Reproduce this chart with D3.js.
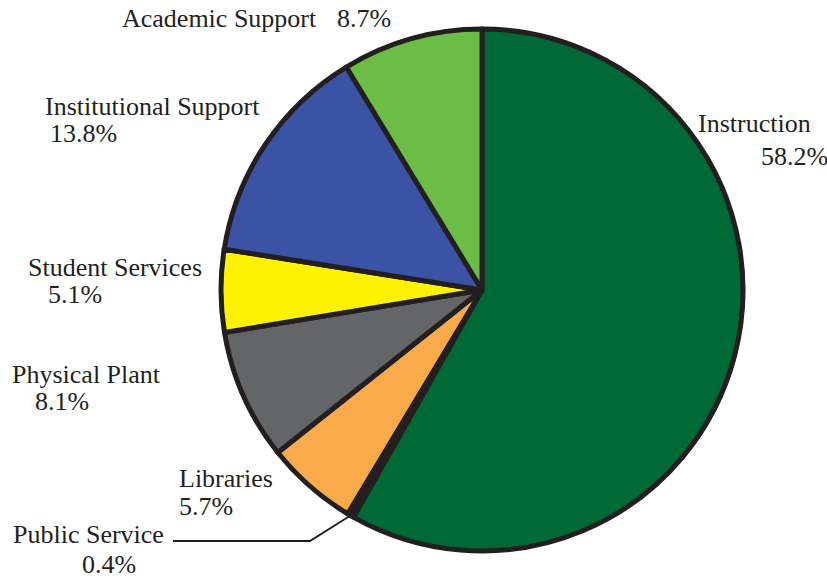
<!DOCTYPE html>
<html>
<head>
<meta charset="utf-8">
<script src="https://cdn.jsdelivr.net/npm/d3@7"></script>
<style>
  html, body { margin: 0; padding: 0; background: #ffffff; }
  svg { display: block; }
  text { font-family: "Liberation Serif", "DejaVu Serif", serif; fill: #231f20; }
</style>
</head>
<body>
<svg id="chart" width="827" height="579"></svg>
<script>
// Expenditure shares by function, clockwise from 12 o'clock
const categories = ["Instruction", "Public Service", "Libraries", "Physical Plant",
                    "Student Services", "Institutional Support", "Academic Support"];
const shares = [58.2, 0.4, 5.7, 8.1, 5.1, 13.8, 8.7];
const sliceColors = ["#006a36", "#231f20", "#f9aa4b", "#646567", "#fff200", "#3a53a4", "#6bbd45"];

// Label placement: [name x, name y, value x, value y]
const labelLayout = {
  "Instruction":           [698, 132, 761, 165],
  "Public Service":        [13, 543, 82, 573],
  "Libraries":             [179, 487, 179, 515],
  "Physical Plant":        [12, 383, 35, 410],
  "Student Services":      [28, 276, 48, 303],
  "Institutional Support": [45, 115, 50, 142],
  "Academic Support":      [122, 27, 337, 27]
};

const svg = d3.select("#chart");
const cx = 482, cy = 290, radius = 261;
const ink = "#231f20";

const data = categories.map((c, i) => ({ name: c, value: shares[i], color: sliceColors[i] }));

const pie = d3.pie().value(d => d.value).sort(null);
const arcs = pie(data);
const arc = d3.arc().innerRadius(0).outerRadius(radius);

const g = svg.append("g").attr("transform", `translate(${cx},${cy})`);

g.selectAll("path.slice")
  .data(arcs)
  .join("path")
  .attr("class", "slice")
  .attr("d", arc)
  .attr("fill", d => d.data.color)
  .attr("stroke", ink)
  .attr("stroke-width", 5)
  .attr("stroke-linejoin", "round");

// Leader line for the thin Public Service slice
const ps = arcs.find(a => a.data.name === "Public Service");
const mid = (ps.startAngle + ps.endAngle) / 2;
const start = [cx + radius * Math.sin(mid), cy - radius * Math.cos(mid)];
svg.append("polyline")
  .attr("points", [start, [310, 541], [173, 541]].map(p => p.join(",")).join(" "))
  .attr("fill", "none")
  .attr("stroke", ink)
  .attr("stroke-width", 2);

// Labels
const labels = svg.append("g").attr("font-size", 26);
arcs.forEach(a => {
  const [nx, ny, vx, vy] = labelLayout[a.data.name];
  labels.append("text").attr("x", nx).attr("y", ny).text(a.data.name);
  labels.append("text").attr("x", vx).attr("y", vy).text(a.data.value.toFixed(1) + "%");
});
</script>
</body>
</html>
